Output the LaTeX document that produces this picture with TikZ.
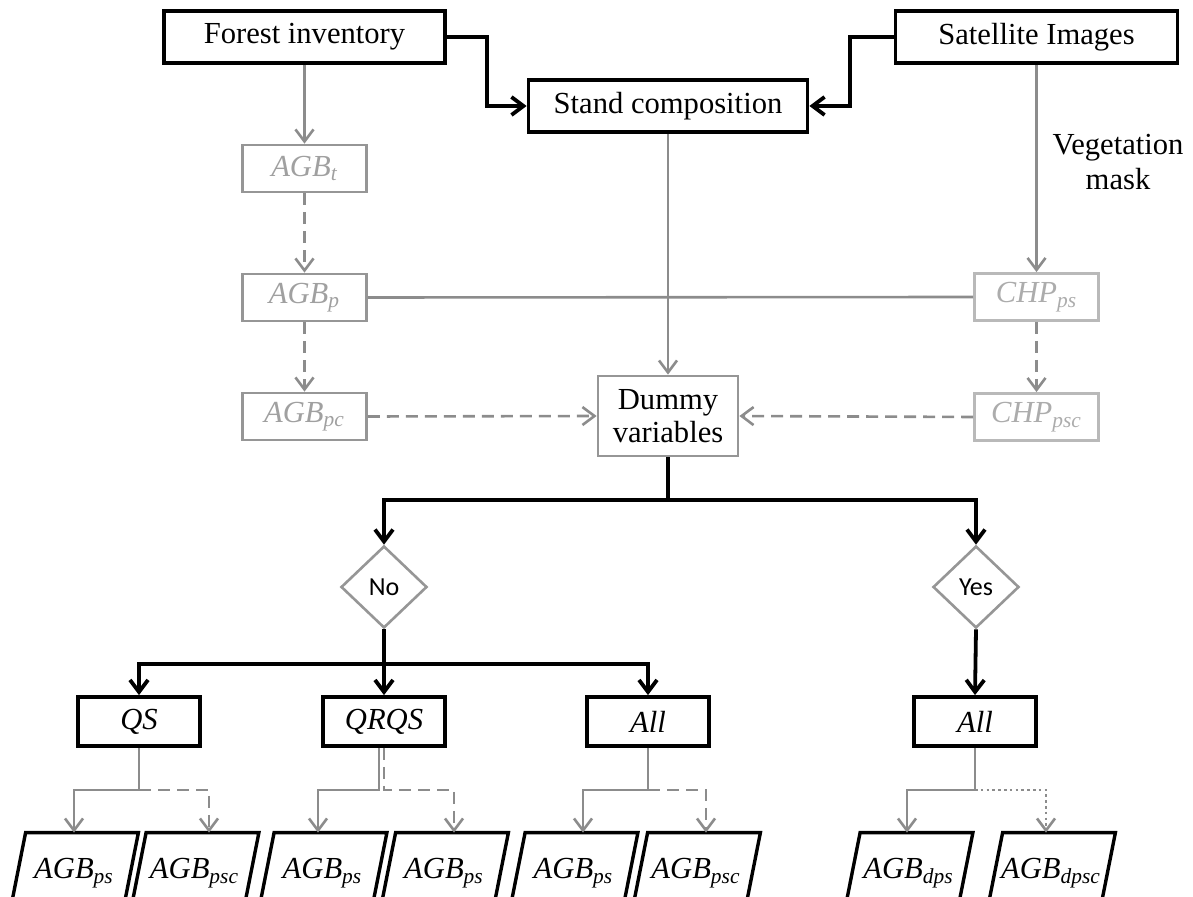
\documentclass[tikz,border=0pt]{standalone}
\usepackage{fontspec}
\setmainfont{Liberation Serif}
\newfontfamily\calibfont{Carlito}
\usetikzlibrary{arrows.meta,shapes.geometric,calc}
\definecolor{lgray}{RGB}{140,140,140}
\definecolor{bgray}{RGB}{150,150,150}
\definecolor{tgray}{RGB}{160,160,160}
\definecolor{cgray}{RGB}{185,185,185}
\definecolor{ctgray}{RGB}{172,172,172}
\begin{document}
\begin{tikzpicture}[x=0.5pt,y=-0.5pt,
  txt/.style={font=\fontsize{15.3}{17}\selectfont},
  blkbox/.style={txt,draw=black,line width=1.9pt,fill=white,inner sep=0pt,minimum height=26pt},
  agbbox/.style={txt,draw=bgray,line width=1.4pt,text=tgray,inner sep=0pt,minimum width=62pt,minimum height=23.5pt,font=\fontsize{15.3}{17}\selectfont\itshape},
  chpbox/.style={agbbox,draw=cgray,text=ctgray},
  dumbox/.style={txt,draw=bgray,line width=1.4pt,inner sep=0pt,minimum width=70pt,minimum height=40pt,align=center,font=\fontsize{15.3}{16.5}\selectfont},
  dia/.style={diamond,draw=bgray,line width=1.3pt,minimum width=43pt,minimum height=41pt,inner sep=0pt,font=\calibfont\fontsize{13}{15}\selectfont},
  selbox/.style={draw=black,line width=1.9pt,inner sep=0pt,minimum width=61pt,minimum height=24.5pt,font=\fontsize{15.3}{17}\selectfont\itshape},
  parnode/.style={inner sep=0pt,minimum width=56pt,minimum height=40pt,font=\fontsize{15.3}{17}\selectfont\itshape},
  parbord/.style={draw=black,line width=1.7pt},
  blkline/.style={draw=black,line width=1.9pt},
  blkarrow/.style={blkline,-{Straight Barb[length=6pt,width=9pt]}},
  gline/.style={draw=lgray,line width=1.3pt},
  garrow/.style={gline,-{Straight Barb[length=6pt,width=9pt]}},
  gdash/.style={dash pattern=on 6pt off 3.5pt},
  gdot/.style={dash pattern=on 1.3pt off 1.6pt}
]
\useasboundingbox (0,0) rectangle (1193,897);
\clip (0,0) rectangle (1193,897);

% top row
\node[blkbox,minimum width=140.5pt] (fi) at (304.5,37) {Forest inventory};
\node[blkbox,minimum width=141pt] (sat) at (1036.5,37) {Satellite Images};
\node[blkbox,minimum width=139.5pt] (sc) at (668,106) {Stand composition};

% gray column boxes
\node[agbbox] (agbt) at (304.5,168.5) {AGB\textsubscript{t}};
\node[agbbox] (agbp) at (304.5,297.5) {AGB\textsubscript{p}};
\node[agbbox] (agbpc) at (304.5,416.5) {AGB\textsubscript{pc}};
\node[chpbox] (chpps) at (1036.5,297) {CHP\textsubscript{ps}};
\node[chpbox] (chpsc) at (1036.5,417) {CHP\textsubscript{psc}};
\node[dumbox] (dummy) at (668,416) {Dummy\\variables};
\node[txt,align=center,font=\fontsize{15.3}{17.5}\selectfont] (veg) at (1118,162) {Vegetation\\mask};

% diamonds
\node[dia] (no) at (384,587) {No};
\node[dia] (yes) at (976,587) {Yes};

% selection boxes
\node[selbox] (qs) at (139,721.5) {QS};
\node[selbox] (qrqs) at (384,721.5) {QRQS};
\node[selbox] (all1) at (648,721.5) {All};
\node[selbox] (all2) at (975,721.5) {All};

% parallelograms
\node[parnode] (p1) at (74,873) {AGB\textsubscript{ps}};
\node[parnode] (p2) at (194.5,873) {AGB\textsubscript{psc}};
\node[parnode] (p3) at (322.5,873) {AGB\textsubscript{ps}};
\node[parnode] (p4) at (444,873) {AGB\textsubscript{ps}};
\node[parnode] (p5) at (573.5,873) {AGB\textsubscript{ps}};
\node[parnode] (p6) at (696,873) {AGB\textsubscript{psc}};
\node[parnode] (p7) at (908.5,873) {AGB\textsubscript{dps}};
\node[parnode] (p8) at (1051,873) {AGB\textsubscript{dpsc}};
\foreach \p in {p1,p2,p3,p4,p5,p6,p7,p8}{
  \draw[parbord] ([xshift=4pt]\p.north west) -- ([xshift=4pt]\p.north east)
     -- ([xshift=-4pt]\p.south east) -- ([xshift=-4pt]\p.south west) -- cycle;
}

% black connectors at top
\draw[blkarrow] (fi.east) -- ++(40,0) |- (sc.west);
\draw[blkarrow] (sat.west) -- ++(-44,0) |- (sc.east);

% gray connectors
\draw[garrow] (fi.south) -- (agbt.north);
\draw[garrow,gdash] (agbt.south) -- (agbp.north);
\draw[garrow,gdash] (agbp.south) -- (agbpc.north);
\draw[gline] (agbp.east) -- (chpps.west);
\draw[garrow] (sc.south) -- (dummy.north);
\draw[garrow] (sat.south) -- (chpps.north);
\draw[garrow,gdash] (chpps.south) -- (chpsc.north);
\draw[garrow,gdash] (agbpc.east) -- (dummy.west);
\draw[garrow,gdash] (chpsc.west) -- (dummy.east);

% decision
\coordinate (j1) at (668,500);
\draw[blkline] (dummy.south) -- (j1);
\draw[blkarrow] (j1) -| (no.north);
\draw[blkarrow] (j1) -| (yes.north);
\coordinate (j2) at (384,664);
\draw[blkline] (no.south) -- (j2);
\draw[blkarrow] (j2) -| (qs.north);
\draw[blkarrow] (j2) -- (qrqs.north);
\draw[blkarrow] (j2) -| (all1.north);
\draw[blkarrow] (yes.south) -- (all2.north);

% bottom branches
\draw[garrow] (qs.south) -- ++(0,42) -| (p1.north);
\draw[garrow,gdash] ($(qs.south)+(0,42)$) -| ([xshift=7.25pt]p2.north);
\draw[garrow] ([xshift=-2.5pt]qrqs.south) -- ++(0,42) -| ([xshift=-2.25pt]p3.north);
\draw[garrow,gdash] (qrqs.south) -- ++(0,42) -| ([xshift=5pt]p4.north);
\draw[garrow] (all1.south) -- ++(0,42) -| ([xshift=4.75pt]p5.north);
\draw[garrow,gdash] ($(all1.south)+(0,42)$) -| ([xshift=5pt]p6.north);
\draw[garrow] (all2.south) -- ++(0,42) -| ([xshift=-0.75pt]p7.north);
\draw[garrow,gdot] ($(all2.south)+(0,42)$) -| ([xshift=-2.5pt]p8.north);
\end{tikzpicture}
\end{document}
